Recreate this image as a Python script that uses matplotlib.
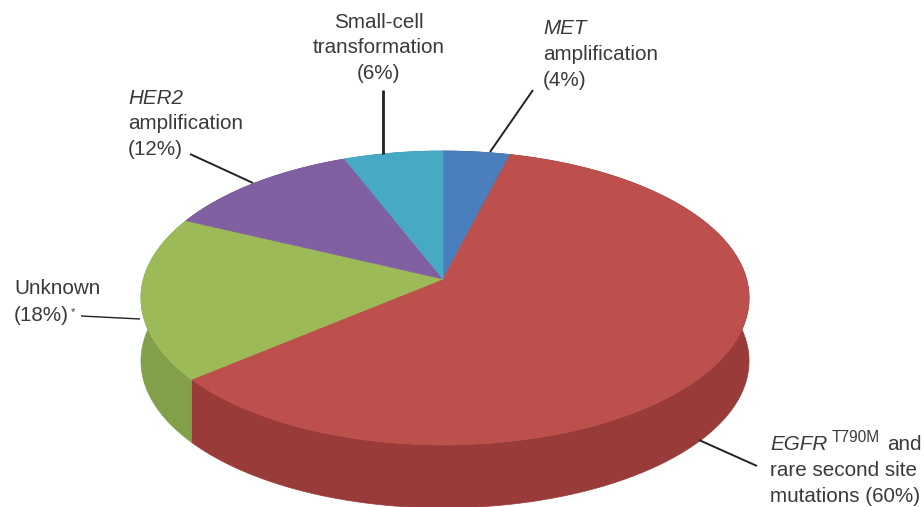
import numpy as np
import matplotlib
matplotlib.use('Agg')
import matplotlib.pyplot as plt

plt.rcParams['font.family'] = ['Liberation Sans', 'DejaVu Sans']

# clockwise from 12 o'clock
categories = ['MET', 'EGFR', 'Unknown', 'HER2', 'Small-cell']
values = [4, 60, 18, 12, 6]
top_colors = ['#4A7EBD', '#BD4F4C', '#9CBB58', '#8160A2', '#46AAC5']
side_colors = ['#3A6496', '#983B39', '#82A04A', '#664C82', '#37879C']

# pie geometry in pixels, perspective squeezes the far half
CX, CY = 443, 279
RX_LEFT, RX_RIGHT = 299.5, 303.5
RY = 144.5
PERSP = 0.129
DEPTH = 63
TEXT = '#3a3a3a'
FS = 14.9


def project(theta):
    u, v = np.sin(theta), np.cos(theta)
    d = 1 + PERSP * v
    rx = np.where(u < 0, RX_LEFT, RX_RIGHT)
    return CX + rx * u / d, CY - RY * v / d


def leader(x0, y0, x1, y1, lw=1.4):
    ax.plot([x0, x1], [y0, y1], color='#222222', lw=lw, solid_capstyle='butt')


fig = plt.figure(figsize=(9.24, 5.07), dpi=100)
ax = fig.add_axes([0, 0, 1, 1])
ax.set_xlim(0, 924)
ax.set_ylim(507, 0)
ax.axis('off')

edges = np.cumsum([0] + values) / sum(values) * 2 * np.pi

# rim first, the top surface covers the hidden part
for i in range(len(values)):
    t = np.linspace(edges[i], edges[i + 1], 200)
    x, y = project(t)
    ax.fill(np.r_[x, x[::-1]], np.r_[y, y[::-1] + DEPTH],
            color=side_colors[i], lw=0.5, zorder=1)

for i in range(len(values)):
    t = np.linspace(edges[i], edges[i + 1], 200)
    x, y = project(t)
    ax.fill(np.r_[CX, x], np.r_[CY, y], color=top_colors[i], lw=0.5, zorder=2)

leader(383, 90, 383, 154, lw=2)
leader(190, 154, 253, 183)
leader(81, 316, 140, 319, lw=1)
leader(533, 90, 490, 152)
leader(699, 440, 757, 466)

txt = dict(color=TEXT, fontsize=FS, va='baseline')
ax.text(379, 28, 'Small-cell', ha='center', **txt)
ax.text(379, 53, 'transformation', ha='center', **txt)
ax.text(379, 79, '(6%)', ha='center', **txt)

ax.text(128, 104, 'HER2', style='italic', **txt)
ax.text(128, 129, 'amplification', **txt)
ax.text(128, 155, '(12%)', **txt)

ax.text(14, 294, 'Unknown', **txt)
ax.text(14, 321, '(18%)', **txt)
ax.text(71, 315, '*', color=TEXT, fontsize=8, va='baseline')

ax.text(543, 34, 'MET', style='italic', **txt)
ax.text(543, 60, 'amplification', **txt)
ax.text(543, 86, '(4%)', **txt)

ax.text(770, 450, 'EGFR', style='italic', **txt)
ax.text(832, 442, 'T790M', color=TEXT, fontsize=11.2, va='baseline')
ax.text(887, 450, 'and', **txt)
ax.text(770, 476, 'rare second site', **txt)
ax.text(770, 502, 'mutations (60%)', **txt)

fig.savefig('out.png', dpi=100)
